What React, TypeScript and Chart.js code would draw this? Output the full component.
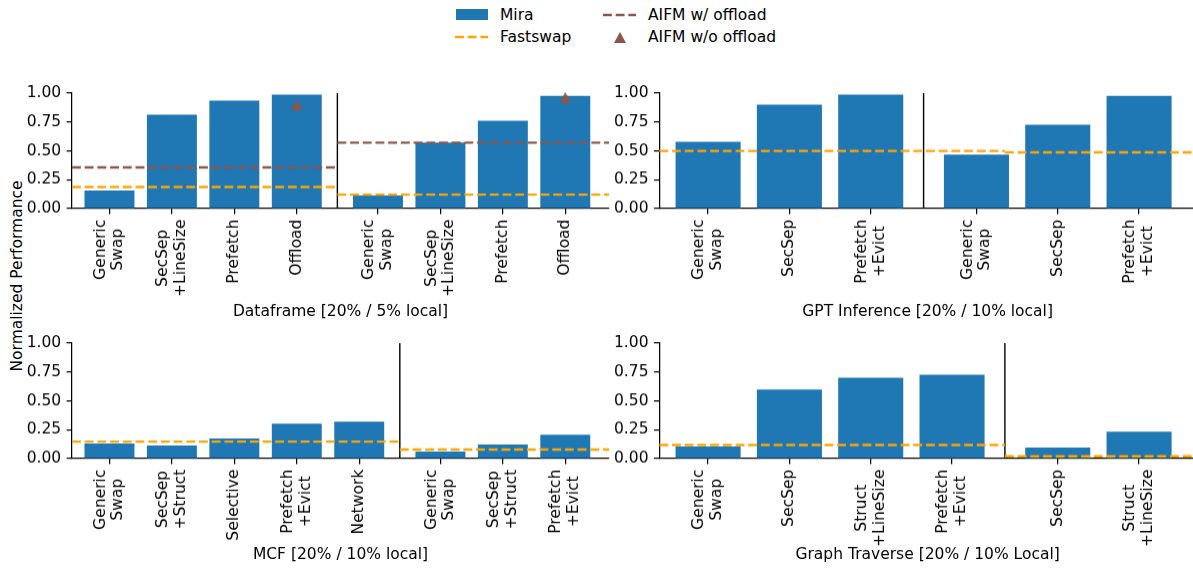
import React, { useEffect, useRef } from "react";
import { Chart, registerables } from "chart.js";

Chart.register(...registerables);

// ---------------- data ----------------
const Y_TICKS = [0, 0.25, 0.5, 0.75, 1.0];

const DF_TITLE = "Dataframe [20% / 5% local]";
const DF_CATS_A = ["Generic\nSwap", "SecSep\n+LineSize", "Prefetch", "Offload"];
const DF_MIRA_A = [0.156, 0.813, 0.934, 0.986];
const DF_CATS_B = ["Generic\nSwap", "SecSep\n+LineSize", "Prefetch", "Offload"];
const DF_MIRA_B = [0.112, 0.571, 0.761, 0.977];
const DF_FASTSWAP = [0.187, 0.121];
const DF_AIFM_OFFLOAD = [0.357, 0.571];
const DF_AIFM_NO_OFFLOAD_A = [null, null, null, 0.896];
const DF_AIFM_NO_OFFLOAD_B = [null, null, null, 0.96];

const GPT_TITLE = "GPT Inference [20% / 10% local]";
const GPT_CATS_A = ["Generic\nSwap", "SecSep", "Prefetch\n+Evict"];
const GPT_MIRA_A = [0.579, 0.899, 0.986];
const GPT_CATS_B = ["Generic\nSwap", "SecSep", "Prefetch\n+Evict"];
const GPT_MIRA_B = [0.467, 0.726, 0.977];
const GPT_FASTSWAP = [0.499, 0.487];

const MCF_TITLE = "MCF [20% / 10% local]";
const MCF_CATS_A = ["Generic\nSwap", "SecSep\n+Struct", "Selective", "Prefetch\n+Evict", "Network"];
const MCF_MIRA_A = [0.13, 0.112, 0.173, 0.303, 0.32];
const MCF_CATS_B = ["Generic\nSwap", "SecSep\n+Struct", "Prefetch\n+Evict"];
const MCF_MIRA_B = [0.061, 0.121, 0.207];
const MCF_FASTSWAP = [0.147, 0.078];

const GT_TITLE = "Graph Traverse [20% / 10% Local]";
const GT_CATS_A = ["Generic\nSwap", "SecSep", "Struct\n+LineSize", "Prefetch\n+Evict"];
const GT_MIRA_A = [0.104, 0.597, 0.7, 0.726];
const GT_CATS_B = ["SecSep", "Struct\n+LineSize"];
const GT_MIRA_B = [0.095, 0.233];
const GT_FASTSWAP = [0.118, 0.02];

// ---------------- style ----------------
const FONT_FAMILY = '"DejaVu Sans", sans-serif';
const FONT_PX = 15.5;
const BLUE = "#1f77b4";
const ORANGE = "#ffa500";
const BROWN = "#8c564b";
const TICK_LEN = 5.4;
const TICK_PAD = 5.4;
const AXIS_W = 1.24;
const DASH_W = 2.4;
const DASH = [8.9, 3.8];
const LINE_STEP = 17.8;
const GROUP_GAP = 0.3;
const X_MARGIN_LEFT = 0.6;
const X_MARGIN_RIGHT = 0.7;

Chart.defaults.font.family = FONT_FAMILY;
Chart.defaults.font.size = FONT_PX;
Chart.defaults.color = "#000";

type Box = {
  left: number; top: number; width: number; height: number;
  yAxisWidth: number; padTop: number; padRight: number;
  xAxisHeight: number; titlePadBottom: number;
};

type PanelSpec = {
  title: string;
  catsA: string[]; miraA: number[];
  catsB: string[]; miraB: number[];
  fastswap: number[];
  aifmOffload?: number[];
  aifmNoOffloadA?: (number | null)[];
  aifmNoOffloadB?: (number | null)[];
  lineSplitAfter: number;
  box: Box;
};

const LEFT_BOX = { left: 0, width: 620, yAxisWidth: 72, padRight: 11 };
const RIGHT_BOX = { left: 610, width: 600, yAxisWidth: 49.3, padRight: 14 };
const TOP_ROW = { top: 73.3, height: 247.7, padTop: 20, xAxisHeight: 112, titlePadBottom: 0.2 };
const BOT_ROW = { top: 323.3, height: 247.7, padTop: 20, xAxisHeight: 112, titlePadBottom: 6.4 };

const PANELS: PanelSpec[] = [
  {
    title: DF_TITLE, catsA: DF_CATS_A, miraA: DF_MIRA_A, catsB: DF_CATS_B, miraB: DF_MIRA_B,
    fastswap: DF_FASTSWAP, aifmOffload: DF_AIFM_OFFLOAD,
    aifmNoOffloadA: DF_AIFM_NO_OFFLOAD_A, aifmNoOffloadB: DF_AIFM_NO_OFFLOAD_B,
    lineSplitAfter: DF_CATS_A.length,
    box: { ...LEFT_BOX, ...TOP_ROW },
  },
  {
    title: GPT_TITLE, catsA: GPT_CATS_A, miraA: GPT_MIRA_A, catsB: GPT_CATS_B, miraB: GPT_MIRA_B,
    fastswap: GPT_FASTSWAP,
    lineSplitAfter: 4,
    box: { ...RIGHT_BOX, ...TOP_ROW },
  },
  {
    title: MCF_TITLE, catsA: MCF_CATS_A, miraA: MCF_MIRA_A, catsB: MCF_CATS_B, miraB: MCF_MIRA_B,
    fastswap: MCF_FASTSWAP,
    lineSplitAfter: MCF_CATS_A.length,
    box: { ...LEFT_BOX, ...BOT_ROW },
  },
  {
    title: GT_TITLE, catsA: GT_CATS_A, miraA: GT_MIRA_A, catsB: GT_CATS_B, miraB: GT_MIRA_B,
    fastswap: GT_FASTSWAP,
    lineSplitAfter: GT_CATS_A.length,
    box: { ...RIGHT_BOX, ...BOT_ROW },
  },
];

function makeTriangle(w: number, h: number, color: string) {
  const c = document.createElement("canvas");
  c.width = w;
  c.height = h;
  const ctx = c.getContext("2d")!;
  ctx.fillStyle = color;
  ctx.beginPath();
  ctx.moveTo(w / 2, 0);
  ctx.lineTo(w, h);
  ctx.lineTo(0, h);
  ctx.closePath();
  ctx.fill();
  return c;
}

function makeLabelPlugin(positions: number[], labels: string[]) {
  return {
    id: "rotatedTickLabels",
    afterDraw(chart: any) {
      const ctx = chart.ctx as CanvasRenderingContext2D;
      const scale = chart.scales.x;
      const top = chart.chartArea.bottom + TICK_LEN + TICK_PAD;
      ctx.save();
      ctx.font = `${FONT_PX}px ${FONT_FAMILY}`;
      ctx.fillStyle = "#000";
      ctx.textAlign = "center";
      ctx.textBaseline = "middle";
      positions.forEach((v, i) => {
        const lines = labels[i].split("\n");
        const W = Math.max(...lines.map((l) => ctx.measureText(l).width));
        const x = scale.getPixelForValue(v);
        ctx.save();
        ctx.translate(x, top);
        ctx.rotate(-Math.PI / 2);
        lines.forEach((line, j) => {
          ctx.fillText(line, -W / 2, (j - (lines.length - 1) / 2) * LINE_STEP);
        });
        ctx.restore();
      });
      ctx.restore();
    },
  };
}

function PanelChart({ p }: { p: PanelSpec }) {
  const ref = useRef<HTMLCanvasElement>(null);
  useEffect(() => {
    const canvas = ref.current!;
    const nA = p.catsA.length;
    const nB = p.catsB.length;
    const posA = p.catsA.map((_, i) => i);
    const posB = p.catsB.map((_, i) => nA + GROUP_GAP + i);
    const last = posB[nB - 1];
    const xMin = -X_MARGIN_LEFT;
    const xMax = last + X_MARGIN_RIGHT;
    const sep = nA - 0.5 + GROUP_GAP / 2;
    const split = p.lineSplitAfter - 0.5 + GROUP_GAP / 2;
    const positions = [...posA, ...posB];
    const labels = [...p.catsA, ...p.catsB];
    const values = [...p.miraA, ...p.miraB];

    const datasets: any[] = [];
    const tri = makeTriangle(12, 11, BROWN);
    const triPts: { x: number; y: number }[] = [];
    (p.aifmNoOffloadA || []).forEach((v, i) => { if (v != null) triPts.push({ x: posA[i], y: v }); });
    (p.aifmNoOffloadB || []).forEach((v, i) => { if (v != null) triPts.push({ x: posB[i], y: v }); });
    if (triPts.length) {
      datasets.push({
        type: "line", label: "AIFM w/o offload", data: triPts, showLine: false,
        pointStyle: tri, pointRadius: 6, order: 0, clip: false,
      });
    }
    const hline = (label: string, y: number, x0: number, x1: number, color: string) => ({
      type: "line", label, data: [{ x: x0, y }, { x: x1, y }],
      borderColor: color, borderWidth: DASH_W, borderDash: DASH, pointRadius: 0,
      fill: false, order: 1, clip: false,
    });
    if (p.aifmOffload) {
      datasets.push(hline("AIFM w/ offload", p.aifmOffload[0], xMin, split, BROWN));
      datasets.push(hline("AIFM w/ offload", p.aifmOffload[1], split, xMax, BROWN));
    }
    datasets.push(hline("Fastswap", p.fastswap[0], xMin, split, ORANGE));
    datasets.push(hline("Fastswap", p.fastswap[1], split, xMax, ORANGE));
    datasets.push({
      type: "line", label: "sep", data: [{ x: sep, y: 0 }, { x: sep, y: 1 }],
      borderColor: "#000", borderWidth: 1.4, pointRadius: 0, order: 2,
    });
    datasets.push({
      type: "bar", label: "Mira",
      data: positions.map((x, i) => ({ x, y: values[i] })),
      backgroundColor: BLUE, borderWidth: 0,
      barPercentage: 0.8, categoryPercentage: 1.0, order: 3,
    });

    const b = p.box;
    const chart = new Chart(canvas, {
      type: "bar",
      data: { datasets },
      options: {
        animation: false,
        responsive: false,
        devicePixelRatio: 1,
        events: [],
        layout: { padding: { top: b.padTop, right: b.padRight, left: 0, bottom: 0 } },
        plugins: { legend: { display: false }, tooltip: { enabled: false } },
        scales: {
          x: {
            type: "linear",
            min: xMin,
            max: xMax,
            offset: false,
            afterBuildTicks: (s: any) => { s.ticks = positions.map((v) => ({ value: v })); },
            afterFit: (s: any) => { s.height = b.xAxisHeight; },
            ticks: { display: false },
            grid: {
              offset: false, drawOnChartArea: false, drawTicks: true,
              tickLength: TICK_LEN, color: "#000", lineWidth: AXIS_W,
            },
            border: { display: true, color: "#000", width: AXIS_W },
            title: {
              display: true, text: p.title, color: "#000",
              font: { family: FONT_FAMILY, size: FONT_PX },
              padding: { top: 0, bottom: b.titlePadBottom },
            },
          },
          y: {
            type: "linear",
            min: 0,
            max: 1,
            afterBuildTicks: (s: any) => { s.ticks = Y_TICKS.map((v) => ({ value: v })); },
            afterFit: (s: any) => { s.width = b.yAxisWidth; },
            ticks: {
              padding: TICK_PAD, color: "#000",
              font: { family: FONT_FAMILY, size: FONT_PX },
              callback: (v: any) => Number(v).toFixed(2),
            },
            grid: {
              drawOnChartArea: false, drawTicks: true,
              tickLength: TICK_LEN, color: "#000", lineWidth: AXIS_W,
            },
            border: { display: true, color: "#000", width: AXIS_W },
          },
        },
      } as any,
      plugins: [makeLabelPlugin(positions, labels)],
    });
    return () => chart.destroy();
  }, [p]);
  const b = p.box;
  return (
    <canvas
      ref={ref}
      width={b.width}
      height={b.height}
      style={{ position: "absolute", left: b.left, top: b.top, width: b.width, height: b.height }}
    />
  );
}

const textStyle: React.CSSProperties = {
  position: "absolute",
  fontFamily: FONT_FAMILY,
  fontSize: FONT_PX,
  lineHeight: "18px",
  height: 18,
  whiteSpace: "nowrap",
  color: "#000",
};

function LegendText({ x, cy, text }: { x: number; cy: number; text: string }) {
  return <div style={{ ...textStyle, left: x, top: cy - 9 }}>{text}</div>;
}

function DashHandle({ x, cy, color }: { x: number; cy: number; color: string }) {
  return (
    <svg style={{ position: "absolute", left: x, top: cy - 4 }} width={33} height={8}>
      <line x1={0} y1={4} x2={33} y2={4} stroke={color} strokeWidth={DASH_W} strokeDasharray={DASH.join(" ")} />
    </svg>
  );
}

export default function App() {
  return (
    <div
      style={{
        position: "absolute", left: 0, top: 0, width: 1193, height: 571,
        overflow: "hidden", background: "#fff",
      }}
    >
      {/* legend */}
      <div style={{ position: "absolute", left: 455.5, top: 8.5, width: 32, height: 11.5, background: BLUE }} />
      <LegendText x={500} cy={14.5} text="Mira" />
      <DashHandle x={455} cy={37} color={ORANGE} />
      <LegendText x={500} cy={37} text="Fastswap" />
      <DashHandle x={603} cy={14.5} color={BROWN} />
      <LegendText x={648} cy={14.5} text="AIFM w/ offload" />
      <svg style={{ position: "absolute", left: 614, top: 31.5 }} width={12} height={11}>
        <polygon points="6,0 12,11 0,11" fill={BROWN} />
      </svg>
      <LegendText x={648} cy={37} text="AIFM w/o offload" />

      {/* shared y label */}
      <div
        style={{
          ...textStyle,
          left: 17, top: 276, height: "auto",
          transform: "translate(-50%, -50%) rotate(-90deg)",
        }}
      >
        Normalized Performance
      </div>

      {PANELS.map((p, i) => (
        <PanelChart key={i} p={p} />
      ))}
    </div>
  );
}
